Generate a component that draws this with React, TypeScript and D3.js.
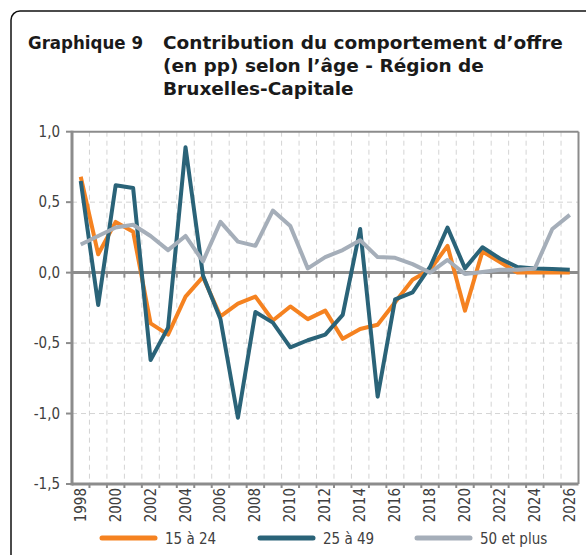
import React from "react";
import * as d3 from "d3";

const years = d3.range(1998, 2027).map(String);
const tickYears = d3.range(1998, 2027, 2).map(String);
const yTicks = [-1.5, -1.0, -0.5, 0, 0.5, 1.0];

const s15a24 = [0.68, 0.13, 0.36, 0.29, -0.36, -0.44, -0.17, -0.03, -0.31, -0.22, -0.17, -0.34, -0.24, -0.33, -0.27, -0.47, -0.4, -0.37, -0.21, -0.05, 0.02, 0.19, -0.27, 0.15, 0.075, 0.0, 0.0, 0.0, 0.0];
const s25a49 = [0.65, -0.23, 0.62, 0.6, -0.62, -0.39, 0.89, -0.02, -0.33, -1.03, -0.28, -0.355, -0.53, -0.48, -0.44, -0.3, 0.31, -0.88, -0.19, -0.14, 0.04, 0.32, 0.03, 0.18, 0.1, 0.04, 0.03, 0.025, 0.02];
const s50plus = [0.2, 0.26, 0.32, 0.34, 0.26, 0.16, 0.26, 0.08, 0.36, 0.22, 0.19, 0.44, 0.33, 0.03, 0.11, 0.16, 0.23, 0.11, 0.105, 0.06, 0.0, 0.09, -0.01, 0.005, 0.02, 0.02, 0.03, 0.31, 0.41];

const seriesNames = ["15 à 24", "25 à 49", "50 et plus"];
const seriesColors = ["#F58220", "#2A6378", "#A5AEB9"];
const seriesData = [s15a24, s25a49, s50plus];

const titleLabel = "Graphique 9";
const titleLines = ["Contribution du comportement d’offre", "(en pp) selon l’âge - Région de", "Bruxelles-Capitale"];

const FONT = "'DejaVu Sans Condensed', 'DejaVu Sans', sans-serif";
const FONT_WIDE = "'DejaVu Sans', sans-serif";

export default function App() {
  const W = 586, H = 555;
  const left = 72, right = 578.5, top = 131.7, bottom = 484;
  const x = d3.scaleBand<string>().domain(years).range([left, right]).paddingInner(0).paddingOuter(0);
  const y = d3.scaleLinear().domain([-1.5, 1]).range([bottom, top]);
  const bw = x.bandwidth();
  const locale = d3.formatLocale({ decimal: ",", thousands: " ", grouping: [3], currency: ["", "€"], minus: "-" });
  const fmt = locale.format(".1f");
  const line = d3.line<number>().x((_, i) => (x(years[i]) as number) + bw / 2).y((d) => y(d));
  const boundaries = d3.range(1, years.length).map((i) => left + i * bw);

  const legendX = [102, 260, 417];

  return (
    <svg width={W} height={H} style={{ position: "absolute", left: 0, top: 0, fontFamily: FONT, fontStretch: "condensed" }}>
      <rect x={0} y={0} width={W} height={H} fill="#fff" />
      <rect x={11} y={11} width={640} height={600} rx={9} ry={9} fill="none" stroke="#111" strokeWidth={1.5} />
      <g fontWeight="bold" fontSize={18.5} fill="#1a1a1a">
        <text x={28} y={49}>{titleLabel}</text>
        {titleLines.map((t, i) => (
          <text key={i} x={163} y={49 + i * 23} style={{ fontFamily: FONT_WIDE, fontStretch: "normal" }}>{t}</text>
        ))}
      </g>
      {/* grid */}
      <g stroke="#d4d4d4" strokeWidth={1} strokeDasharray="5,4">
        {boundaries.map((bx, i) => (
          <line key={"v" + i} x1={bx} x2={bx} y1={top} y2={bottom} />
        ))}
        {[0.5, -0.5, -1.0].map((v, i) => (
          <line key={"h" + i} x1={left} x2={right} y1={y(v)} y2={y(v)} />
        ))}
      </g>
      {/* frame */}
      <line x1={left} x2={right} y1={top} y2={top} stroke="#8c8c8c" strokeWidth={2} />
      <line x1={right} x2={right} y1={top} y2={bottom} stroke="#8c8c8c" strokeWidth={2} />
      {/* zero line ticks */}
      <g stroke="#8c8c8c" strokeWidth={2}>
        {boundaries.map((bx, i) => (
          <line key={"t" + i} x1={bx} x2={bx} y1={y(0)} y2={y(0) + 5} />
        ))}
        {boundaries.map((bx, i) => (
          <line key={"b" + i} x1={bx} x2={bx} y1={bottom} y2={bottom + 4} />
        ))}
        {yTicks.map((v, i) => (
          <line key={"yt" + i} x1={left - 6} x2={left} y1={y(v)} y2={y(v)} />
        ))}
      </g>
      <line x1={left} x2={right} y1={y(0)} y2={y(0)} stroke="#8c8c8c" strokeWidth={3} />
      <line x1={left} x2={right} y1={bottom} y2={bottom} stroke="#8c8c8c" strokeWidth={3} />
      <line x1={left} x2={left} y1={top - 1} y2={bottom + 1.5} stroke="#8c8c8c" strokeWidth={3} />
      {/* y labels */}
      <g fontSize={15} fill="#404040" textAnchor="end">
        {yTicks.map((v, i) => (
          <text key={i} x={60} y={y(v) + 5}>{fmt(v)}</text>
        ))}
      </g>
      {/* x labels */}
      <g fontSize={15} fill="#404040" textAnchor="end">
        {tickYears.map((yr) => {
          const cx = (x(yr) as number) + bw / 2;
          return (
            <text key={yr} transform={`translate(${cx + 5},${bottom + 4}) rotate(-90)`}>{yr}</text>
          );
        })}
      </g>
      {/* series */}
      {seriesData.map((d, i) => (
        <path key={i} d={line(d) || ""} fill="none" stroke={seriesColors[i]} strokeWidth={4} strokeLinejoin="round" />
      ))}
      {/* legend */}
      <g fontSize={15} fill="#404040">
        {seriesNames.map((n, i) => (
          <g key={n}>
            <line x1={legendX[i]} x2={legendX[i] + 53} y1={538} y2={538} stroke={seriesColors[i]} strokeWidth={5} strokeLinecap="round" />
            <text x={legendX[i] + 63} y={543.5}>{n}</text>
          </g>
        ))}
      </g>
    </svg>
  );
}
